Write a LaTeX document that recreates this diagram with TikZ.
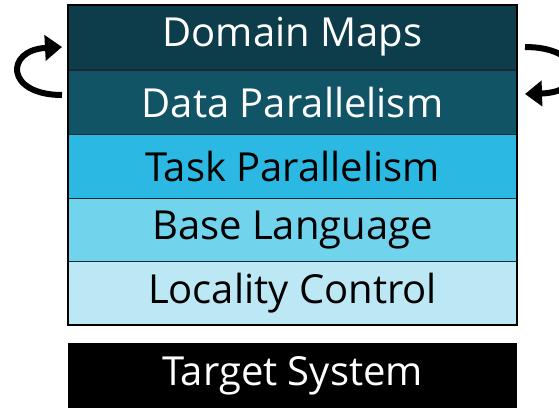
\documentclass[tikz,border=0pt]{standalone}
\usepackage{fontspec}
\setmainfont{Open Sans}
\usetikzlibrary{arrows.meta}
\definecolor{cDomain}{HTML}{0D3D4B}
\definecolor{cData}{HTML}{105466}
\definecolor{cTask}{HTML}{2BB8E2}
\definecolor{cBase}{HTML}{71D3EC}
\definecolor{cLocal}{HTML}{BCE8F5}
\definecolor{cDiv}{HTML}{1A2A30}
\tikzset{
  layer/.style={draw=cDiv, line width=1pt, minimum width=449pt, minimum height=64pt,
    inner sep=0pt, outer sep=0pt, anchor=north west, font=\fontsize{40}{46}\selectfont},
  loop/.style={line width=6pt, -{Triangle[length=17pt,width=25pt]}},
}
\begin{document}
\begin{tikzpicture}[x=1pt,y=-1pt]
\useasboundingbox (0,0) rectangle (559,407);
\node[layer, fill=cDomain, text=white] (dm) at (68,5) {Domain Maps};
\node[layer, fill=cData, text=white] (dp) at (68,70) {Data Parallelism};
\node[layer, fill=cTask] (tp) at (68,134) {Task Parallelism};
\node[layer, fill=cBase] (bl) at (68,198) {Base Language};
\node[layer, fill=cLocal] (lc) at (68,261) {Locality Control};
\draw[line width=2pt] (dm.north west) rectangle (lc.south east);
\node[layer, draw=none, fill=black, text=white, minimum height=66pt] (ts) at (68,343) {Target System};
\coordinate (ls) at (62,95);
\coordinate (le) at (62,47);
\coordinate (rs) at (525,47);
\coordinate (re) at (525,94);
\draw[loop] (ls) .. controls (5,95) and (5,50) .. (le);
\draw[loop] (rs) .. controls (585,47) and (590,92) .. (re);
\end{tikzpicture}
\end{document}
